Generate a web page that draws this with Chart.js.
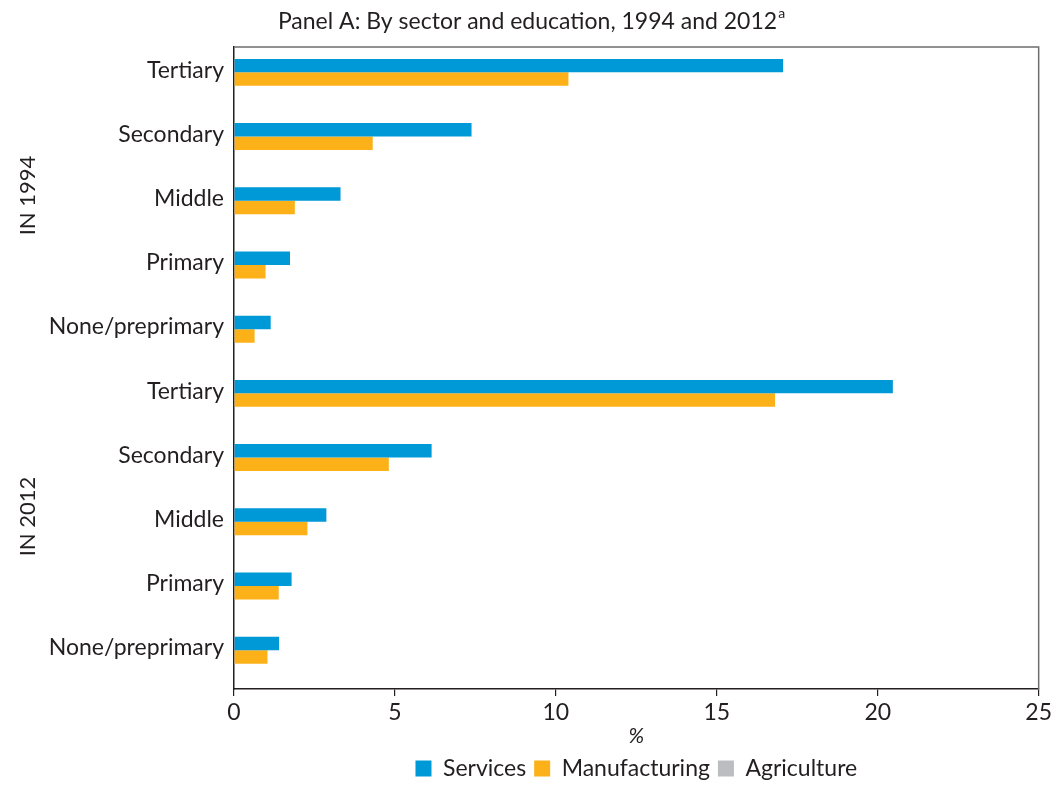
<!DOCTYPE html>
<html>
<head>
<meta charset="utf-8">
<script src="https://cdn.jsdelivr.net/npm/chart.js@4.4.1/dist/chart.umd.min.js"></script>
<style>
html,body{margin:0;padding:0;background:#fff;}
#wrap{width:1055px;height:785px;position:relative;}
</style>
</head>
<body>
<div id="wrap"><canvas id="c" width="1055" height="785"></canvas></div>
<script>
const categories = ["Tertiary","Secondary","Middle","Primary","None/preprimary","Tertiary","Secondary","Middle","Primary","None/preprimary"];
const groupLabels = ["IN 1994","IN 2012"];
const services      = [17.06, 7.38, 3.31, 1.74, 1.14, 20.47, 6.14, 2.87, 1.79, 1.40];
const manufacturing = [10.39, 4.31, 1.89, 0.98, 0.64, 16.81, 4.81, 2.28, 1.39, 1.04];
const agriculture   = [0, 0, 0, 0, 0, 0, 0, 0, 0, 0];
const xTicks = [0, 5, 10, 15, 20, 25];
const titleText = "Panel A: By sector and education, 1994 and 2012";
const titleSup = "a";

const FONT = "Lato, 'Open Sans', sans-serif";
const TXT = '#231f20';

const overlay = {
  id: 'overlay',
  afterDraw(chart) {
    const ctx = chart.ctx;
    const a = chart.chartArea;
    ctx.save();
    ctx.strokeStyle = '#6d6e71';
    ctx.lineWidth = 1.5;
    ctx.beginPath();
    ctx.moveTo(a.left, a.top);
    ctx.lineTo(a.right, a.top);
    ctx.lineTo(a.right, a.bottom);
    ctx.stroke();
    ctx.fillStyle = TXT;
    ctx.font = "23px " + FONT;
    ctx.textBaseline = 'alphabetic';
    const w1 = ctx.measureText(titleText).width;
    ctx.font = "14px " + FONT;
    const w2 = ctx.measureText(titleSup).width;
    const x0 = 531 - (w1 + w2) / 2;
    ctx.font = "23px " + FONT;
    ctx.textAlign = 'left';
    ctx.fillText(titleText, x0, 29);
    ctx.font = "14px " + FONT;
    ctx.fillText(titleSup, x0 + w1 + 1, 18);
    const ys = chart.scales.y;
    ctx.font = "22px " + FONT;
    ctx.textAlign = 'center';
    ctx.textBaseline = 'middle';
    for (let g = 0; g < groupLabels.length; g++) {
      const yA = ys.getPixelForValue(g * 5);
      const yB = ys.getPixelForValue(g * 5 + 4);
      const yc = (yA + yB) / 2 - 12;
      ctx.save();
      ctx.translate(28, yc);
      ctx.rotate(-Math.PI / 2);
      ctx.fillText(groupLabels[g], 0, 0);
      ctx.restore();
    }
    ctx.restore();
  }
};

new Chart(document.getElementById('c'), {
  type: 'bar',
  data: {
    labels: categories,
    datasets: [
      {label: 'Services', data: services, backgroundColor: '#0099d8', borderWidth: 0},
      {label: 'Manufacturing', data: manufacturing, backgroundColor: '#fbb117', borderWidth: 0},
      {label: 'Agriculture', data: agriculture, backgroundColor: '#bcbdc0', borderWidth: 0}
    ]
  },
  options: {
    indexAxis: 'y',
    responsive: false,
    animation: false,
    layout: {padding: {top: 47, right: 15, left: 0, bottom: -5}},
    categoryPercentage: 0.63,
    barPercentage: 1.0,
    scales: {
      x: {
        min: 0, max: 25,
        afterBuildTicks(scale) { scale.ticks = xTicks.map(v => ({value: v})); },
        ticks: {color: TXT, font: {family: FONT, size: 23}, padding: 3, maxRotation: 0},
        grid: {drawOnChartArea: false, drawTicks: true, tickLength: 7, color: '#231f20', lineWidth: 1.2},
        border: {display: true, color: '#231f20', width: 1.5},
        title: {display: true, text: '%', color: TXT, font: {family: FONT, size: 21, style: 'italic'}, padding: {top: -4, bottom: 0}},
        afterFit(scale) { scale.height = 60; }
      },
      y: {
        ticks: {color: TXT, font: {family: FONT, size: 23}, padding: 10, labelOffset: -9, autoSkip: false},
        grid: {drawOnChartArea: false, drawTicks: false},
        border: {display: true, color: '#231f20', width: 1.5},
        afterFit(scale) { scale.width = 234; }
      }
    },
    plugins: {
      legend: {
        position: 'bottom',
        fullSize: false,
        labels: {color: TXT, font: {family: FONT, size: 23}, boxWidth: 16, boxHeight: 16, padding: 8}
      },
      title: {display: false},
      tooltip: {enabled: false}
    }
  },
  plugins: [overlay]
});
</script>
</body>
</html>
